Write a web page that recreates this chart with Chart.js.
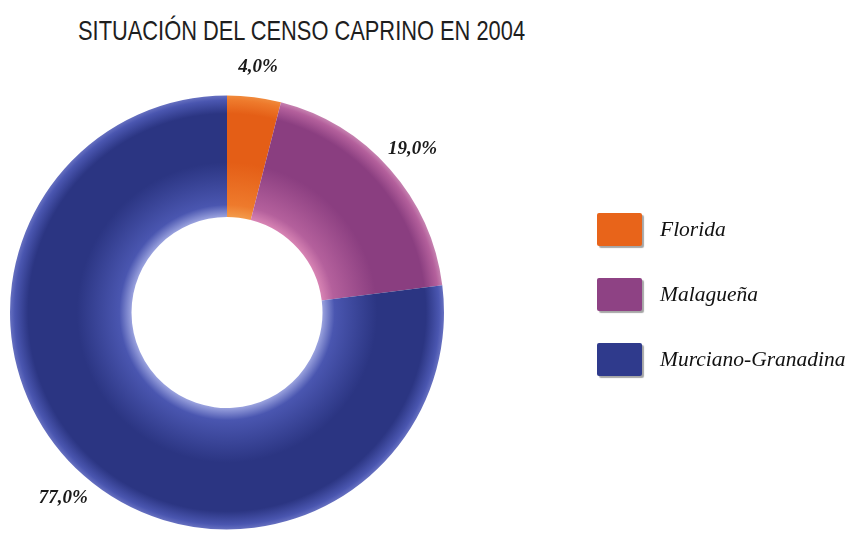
<!DOCTYPE html>
<html>
<head>
<meta charset="utf-8">
<script src="https://cdn.jsdelivr.net/npm/chart.js@4.4.1/dist/chart.umd.min.js"></script>
<style>
    body { margin: 0; background: #fff; }
    #wrap { position: relative; width: 849px; height: 535px; overflow: hidden; }
    #title {
        position: absolute; left: 78px; top: 15px;
        font-family: "Liberation Sans", Arial, sans-serif; font-size: 28px;
        color: #1e1e1e; white-space: nowrap;
        transform: scaleX(0.78); transform-origin: left top;
    }
    #legend { position: absolute; left: 597px; top: 212px; margin: 0; padding: 0; list-style: none; }
    #legend li { display: flex; align-items: center; height: 34px; margin-bottom: 31px; }
    #legend .box { width: 45px; height: 33px; border-radius: 2px; box-shadow: 2px 2px 1px rgba(0,0,0,0.35); }
    #legend .txt {
        margin-left: 18px; font-family: "Liberation Serif", "DejaVu Serif", serif;
        font-style: italic; font-size: 21.5px; color: #111;
    }
    canvas { position: absolute; left: 0; top: 0; }
</style>
</head>
<body>
<div id="wrap">
    <div id="title">SITUACIÓN DEL CENSO CAPRINO EN 2004</div>
    <canvas id="censo-chart" width="849" height="535"></canvas>
    <ul id="legend"></ul>
</div>
<script>
const breeds = ['Florida', 'Malagueña', 'Murciano-Granadina'];
const shares = [4.0, 19.0, 77.0];
const percentLabels = ['4,0%', '19,0%', '77,0%'];

// base colour + edge / middle shades to fake the rounded ring look
const baseColors = ['#e8641a', '#8e4284', '#2f3a8c'];
const innerShades = ['#f39a4a', '#d884b4', '#9aa2de'];
const edgeShades = ['#ee7a2c', '#b4609c', '#4a56b0'];
const midShades = ['#e45e16', '#8a3e80', '#2b3582'];
const outerShades = ['#f08a3c', '#c682b0', '#6670c0'];

function ringColor(context) {
    const chart = context.chart;
    const i = context.dataIndex;
    const area = chart.chartArea;
    const ctrl = chart.getDatasetMeta(0).controller;
    if (!area || !ctrl || !ctrl.outerRadius) {
        return baseColors[i];
    }
    const cx = (area.left + area.right) / 2;
    const cy = (area.top + area.bottom) / 2;
    const g = chart.ctx.createRadialGradient(cx, cy, ctrl.innerRadius, cx, cy, ctrl.outerRadius);
    g.addColorStop(0, innerShades[i]);
    g.addColorStop(0.1, edgeShades[i]);
    g.addColorStop(0.45, midShades[i]);
    g.addColorStop(0.85, midShades[i]);
    g.addColorStop(0.96, edgeShades[i]);
    g.addColorStop(1, outerShades[i]);
    return g;
}

// percent labels outside the ring, placed from each arc's angle
const percentLabelPlugin = {
    id: 'percentLabels',
    afterDatasetsDraw(chart) {
        const ctx = chart.ctx;
        const meta = chart.getDatasetMeta(0);
        ctx.save();
        ctx.font = 'italic bold 19px "Liberation Serif", serif';
        ctx.fillStyle = '#1a1a1a';
        ctx.textAlign = 'center';
        ctx.textBaseline = 'middle';
        meta.data.forEach((arc, i) => {
            const mid = (arc.startAngle + arc.endAngle) / 2;
            const r = arc.outerRadius * 1.14;
            ctx.fillText(percentLabels[i], arc.x + Math.cos(mid) * r, arc.y + Math.sin(mid) * r);
        });
        ctx.restore();
    }
};

function buildLegend() {
    const legend = document.getElementById('legend');
    legend.innerHTML = '';
    breeds.forEach((name, i) => {
        const li = document.createElement('li');
        li.innerHTML = `<span class="box" style="background:${baseColors[i]}"></span><span class="txt">${name}</span>`;
        legend.appendChild(li);
    });
}

const ctx = document.getElementById('censo-chart').getContext('2d');
new Chart(ctx, {
    type: 'doughnut',
    data: {
        labels: breeds,
        datasets: [{
            data: shares,
            backgroundColor: ringColor,
            borderWidth: 0
        }]
    },
    options: {
        responsive: false,
        animation: false,
        cutout: '44%',
        layout: {
            padding: { left: 10, top: 95, right: 405, bottom: 5 }
        },
        plugins: {
            legend: { display: false },
            tooltip: { enabled: false }
        }
    },
    plugins: [percentLabelPlugin]
});

buildLegend();
</script>
</body>
</html>
